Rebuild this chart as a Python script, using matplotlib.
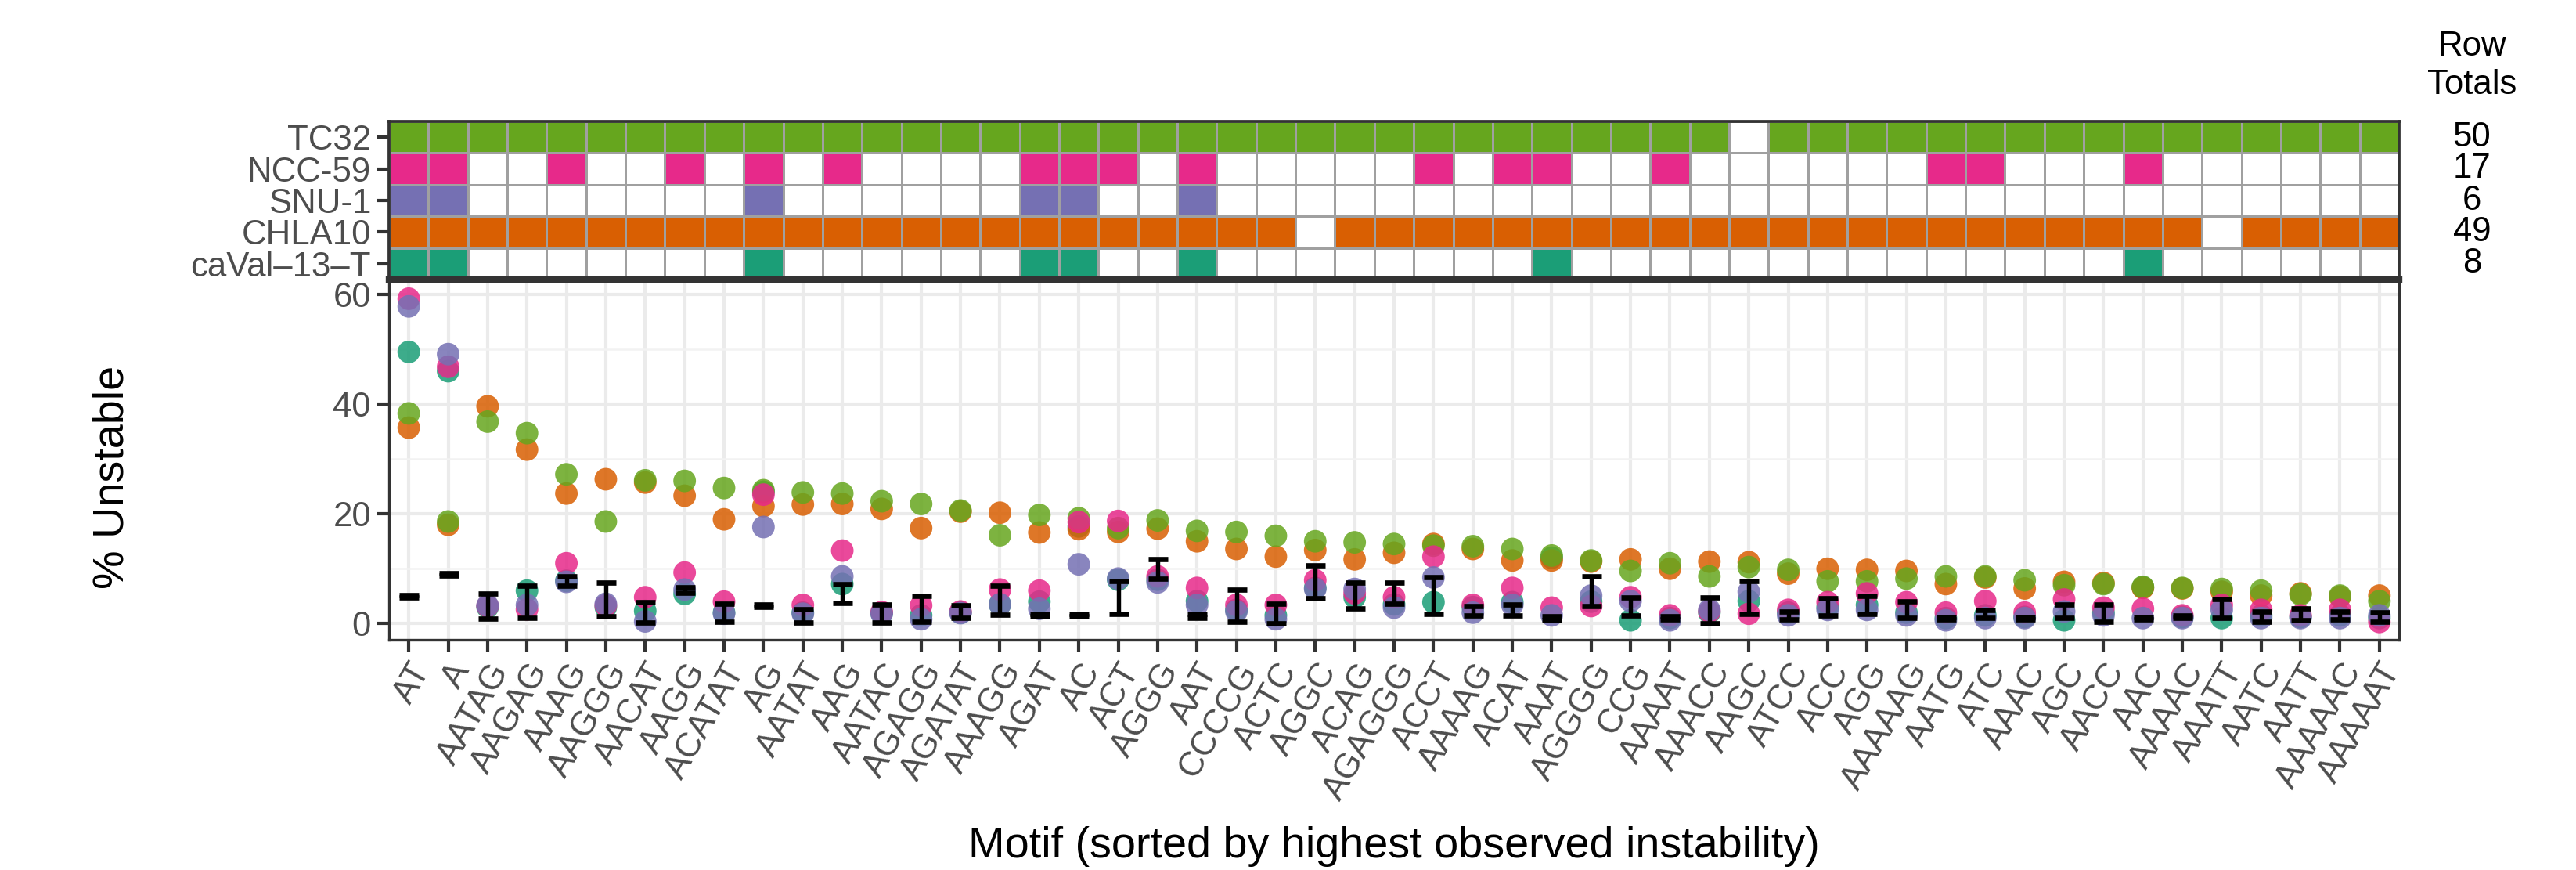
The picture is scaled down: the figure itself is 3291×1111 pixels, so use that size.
import matplotlib
matplotlib.use("Agg")
import matplotlib.pyplot as plt
import numpy as np
from matplotlib.colors import ListedColormap
from matplotlib.transforms import blended_transform_factory
from matplotlib.ticker import FixedLocator

plt.rcParams['font.family'] = ['Liberation Sans', 'DejaVu Sans']

# ---------------- data ----------------
motifs = ["AT", "A", "AATAG", "AAGAG", "AAAG", "AAGGG", "AACAT", "AAGG", "ACATAT", "AG",
          "AATAT", "AAG", "AATAC", "AGAGG", "AGATAT", "AAAGG", "AGAT", "AC", "ACT", "AGGG",
          "AAT", "CCCCG", "ACTC", "AGGC", "ACAG", "AGAGGG", "ACCT", "AAAAG", "ACAT", "AAAT",
          "AGGGG", "CCG", "AAAAT", "AAACC", "AAGC", "ATCC", "ACC", "AGG", "AAAAAG", "AATG",
          "ATC", "AAAC", "AGC", "AACC", "AAC", "AAAAC", "AAATT", "AATC", "AATT", "AAAAAC",
          "AAAAAT"]

cell_lines = ["TC32", "NCC-59", "SNU-1", "CHLA10", "caVal\u201313\u2013T"]
line_colors = ["#66A61E", "#E7298A", "#7570B3", "#D95F02", "#1B9E77"]

# significance membership (heatmap), one list per cell line
tc32_sig = [1, 1, 1, 1, 1, 1, 1, 1, 1, 1,
            1, 1, 1, 1, 1, 1, 1, 1, 1, 1,
            1, 1, 1, 1, 1, 1, 1, 1, 1, 1,
            1, 1, 1, 1, 0, 1, 1, 1, 1, 1,
            1, 1, 1, 1, 1, 1, 1, 1, 1, 1, 1]
ncc_sig = [1, 1, 0, 0, 1, 0, 0, 1, 0, 1,
           0, 1, 0, 0, 0, 0, 1, 1, 1, 0,
           1, 0, 0, 0, 0, 0, 1, 0, 1, 1,
           0, 0, 1, 0, 0, 0, 0, 0, 0, 1,
           1, 0, 0, 0, 1, 0, 0, 0, 0, 0, 0]
snu_sig = [1, 1, 0, 0, 0, 0, 0, 0, 0, 1,
           0, 0, 0, 0, 0, 0, 1, 1, 0, 0,
           1, 0, 0, 0, 0, 0, 0, 0, 0, 0,
           0, 0, 0, 0, 0, 0, 0, 0, 0, 0,
           0, 0, 0, 0, 0, 0, 0, 0, 0, 0, 0]
chla_sig = [1, 1, 1, 1, 1, 1, 1, 1, 1, 1,
            1, 1, 1, 1, 1, 1, 1, 1, 1, 1,
            1, 1, 1, 0, 1, 1, 1, 1, 1, 1,
            1, 1, 1, 1, 1, 1, 1, 1, 1, 1,
            1, 1, 1, 1, 1, 1, 0, 1, 1, 1, 1]
caval_sig = [1, 1, 0, 0, 0, 0, 0, 0, 0, 1,
             0, 0, 0, 0, 0, 0, 1, 1, 0, 0,
             1, 0, 0, 0, 0, 0, 0, 0, 0, 1,
             0, 0, 0, 0, 0, 0, 0, 0, 0, 0,
             0, 0, 0, 0, 1, 0, 0, 0, 0, 0, 0]

# % unstable per cell line
tc32_v = [38.3, 18.6, 36.8, 34.7, 27.2, 18.6, 26.1, 26.0, 24.7, 24.3,
          23.9, 23.7, 22.3, 21.8, 20.6, 16.1, 19.8, 19.2, 17.4, 18.8,
          16.9, 16.7, 16.0, 15.0, 14.8, 14.5, 14.2, 14.1, 13.6, 12.4,
          11.5, 9.6, 11.0, 8.6, 10.3, 9.8, 7.7, 7.7, 8.2, 8.6,
          8.6, 7.9, 7.0, 7.2, 6.7, 6.5, 6.3, 6.0, 5.3, 5.1, 4.1]
ncc_v = [59.2, 46.8, 3.2, 2.6, 11.0, 3.3, 4.8, 9.3, 4.0, 23.5,
         3.4, 13.3, 2.1, 3.3, 2.2, 6.2, 6.0, 18.5, 18.7, 8.6,
         6.5, 3.4, 3.4, 7.9, 5.5, 4.8, 12.2, 3.4, 6.5, 2.9,
         3.2, 4.8, 1.5, 2.2, 1.8, 2.5, 3.9, 5.5, 3.9, 2.0,
         4.1, 2.0, 4.4, 2.9, 2.7, 1.5, 3.4, 2.5, 1.5, 2.5, 0.3]
snu_v = [57.8, 49.1, 3.3, 3.4, 7.6, 3.6, 0.4, 6.2, 1.8, 17.6,
         1.8, 8.6, 1.8, 0.8, 1.9, 3.5, 2.7, 10.8, 8.2, 7.5,
         3.4, 2.2, 0.8, 6.3, 6.3, 2.9, 8.4, 2.0, 3.4, 1.5,
         5.1, 4.1, 0.6, 2.5, 5.8, 1.5, 2.5, 2.5, 1.5, 0.6,
         1.0, 1.0, 2.2, 1.5, 1.0, 1.0, 2.5, 1.0, 1.0, 1.0, 1.5]
chla_v = [35.7, 18.0, 39.6, 31.7, 23.7, 26.3, 25.7, 23.3, 19.0, 21.4,
          21.7, 21.8, 20.9, 17.4, 20.4, 20.2, 16.6, 17.2, 16.7, 17.3,
          15.0, 13.6, 12.2, 13.4, 11.7, 12.9, 14.5, 13.6, 11.5, 11.5,
          11.3, 11.7, 10.0, 11.3, 11.2, 9.1, 10.0, 9.8, 9.6, 7.2,
          8.4, 6.4, 7.6, 7.4, 6.5, 6.4, 5.8, 5.1, 5.5, 4.9, 5.1]
caval_v = [49.5, 46.0, 3.0, 6.0, 7.8, 3.0, 2.3, 5.4, 2.0, 24.0,
           2.0, 7.2, 1.9, 1.5, 2.0, 3.5, 4.0, 17.7, 8.0, 8.0,
           4.1, 2.5, 1.5, 6.5, 4.8, 3.5, 3.9, 3.0, 3.9, 12.0,
           4.0, 0.6, 1.0, 2.0, 4.1, 2.0, 3.0, 3.4, 2.0, 1.0,
           1.5, 1.2, 0.6, 2.0, 6.6, 1.2, 1.0, 1.5, 1.2, 1.5, 1.0]

# control range (black error bars)
ctrl_lo = [4.7, 8.7, 0.9, 1.1, 6.9, 1.4, 0.2, 5.6, 0.4, 3.0,
           0.2, 3.8, 0.2, 0.3, 1.1, 1.6, 1.3, 1.4, 1.8, 8.2,
           1.0, 0.3, 0.1, 4.6, 2.7, 3.6, 1.8, 1.5, 1.5, 0.6,
           3.2, 1.5, 0.8, 0.1, 1.8, 0.8, 1.5, 1.8, 1.0, 0.8,
           1.0, 0.8, 1.0, 0.3, 0.8, 1.1, 1.0, 0.3, 0.6, 0.8, 0.3]
ctrl_hi = [5.2, 9.2, 5.5, 6.9, 8.6, 7.5, 3.9, 6.6, 3.6, 3.5,
           2.6, 7.2, 3.5, 5.1, 3.3, 6.9, 1.8, 1.7, 7.7, 11.7,
           1.7, 6.2, 3.6, 10.6, 7.4, 7.4, 8.4, 3.2, 3.4, 1.4,
           8.6, 4.8, 1.3, 4.7, 7.7, 2.2, 4.6, 5.1, 4.1, 1.2,
           2.5, 1.2, 3.4, 3.4, 1.2, 1.5, 4.4, 2.2, 2.7, 2.2, 2.0]

sig_rows = [tc32_sig, ncc_sig, snu_sig, chla_sig, caval_sig]
val_rows = [tc32_v, ncc_v, snu_v, chla_v, caval_v]

# ---------------- figure ----------------
W, H, DPI = 3291, 1111, 300
fig = plt.figure(figsize=(W / DPI, H / DPI), dpi=DPI)

def px_axes(x0, x1, y0, y1):
    return fig.add_axes([x0 / W, 1 - y1 / H, (x1 - x0) / W, (y1 - y0) / H])

ax_h = px_axes(497, 3065, 155, 357)
ax_s = px_axes(497, 3065, 359, 817)

n = len(motifs)
x = np.arange(n)
tick_col = "#4D4D4D"
dark = "#333333"
fs_tick = 10.5
fs_title = 13.4

# ---- heatmap ----
code = np.array([[(r + 1) if s else 0 for s in row] for r, row in enumerate(sig_rows)])
cmap = ListedColormap(["white"] + line_colors)
ax_h.pcolormesh(np.arange(n + 1) - 0.5, np.arange(len(cell_lines) + 1) - 0.5, code,
                cmap=cmap, vmin=-0.5, vmax=len(cell_lines) + 0.5,
                edgecolors="#A0A0A0", linewidth=0.6)
ax_h.set_xlim(-0.5, n - 0.5)
ax_h.set_ylim(len(cell_lines) - 0.5, -0.5)
ax_h.set_xticks([])
ax_h.set_yticks(range(len(cell_lines)))
ax_h.set_yticklabels(cell_lines, fontsize=fs_tick, color=tick_col)
ax_h.tick_params(axis="y", length=3.5, width=1.0, color=dark, pad=2)
for side, sp in ax_h.spines.items():
    sp.set_color(dark)
    sp.set_linewidth(0.9)
ax_h.spines["bottom"].set_linewidth(2.0)

# row totals
tr = blended_transform_factory(fig.transFigure, ax_h.transData)
totals = [sum(row) for row in sig_rows]
for i, t in enumerate(totals):
    ax_h.text(3158 / W, i, str(t), transform=tr, ha="center", va="center",
              fontsize=fs_tick, color="black")
fig.text(3158 / W, 1 - 84 / H, "Row\nTotals", ha="center", va="center",
         fontsize=fs_tick, color="black", linespacing=1.25)

# ---- scatter ----
ax_s.set_xlim(-0.5, n - 0.5)
ax_s.set_ylim(-2.95, 62.4)
ax_s.set_axisbelow(True)
ax_s.yaxis.set_major_locator(FixedLocator([0, 20, 40, 60]))
ax_s.yaxis.set_minor_locator(FixedLocator([10, 30, 50]))
ax_s.set_xticks(x)
ax_s.set_xticklabels(motifs, rotation=60, ha="right", va="top", rotation_mode="anchor",
                     fontsize=fs_tick, color=tick_col)
ax_s.set_yticks([0, 20, 40, 60])
ax_s.set_yticklabels(["0", "20", "40", "60"], fontsize=fs_tick, color=tick_col)
ax_s.grid(True, which="major", color="#EBEBEB", linewidth=1.0)
ax_s.grid(True, which="minor", axis="y", color="#F2F2F2", linewidth=0.6)
ax_s.tick_params(axis="both", which="major", length=3.5, width=1.0, color=dark, pad=2)
ax_s.tick_params(axis="y", which="minor", length=0)
for sp in ax_s.spines.values():
    sp.set_color(dark)
    sp.set_linewidth(0.8)

draw_order = [4, 3, 0, 1, 2]
for k in draw_order:
    ax_s.scatter(x, val_rows[k], s=48, color=line_colors[k], alpha=0.85,
                 edgecolors="none", zorder=3)

lo = np.array(ctrl_lo)
hi = np.array(ctrl_hi)
mid = (lo + hi) / 2
ax_s.errorbar(x, mid, yerr=(hi - lo) / 2, fmt="none", ecolor="black",
              elinewidth=1.3, capsize=3.0, capthick=1.6, zorder=4)

fig.text(143 / W, 1 - 609 / H, "% Unstable", rotation=90, ha="center", va="center",
         fontsize=fs_title, color="black")
fig.text(1781 / W, 1 - 1081 / H, "Motif (sorted by highest observed instability)",
         ha="center", va="center", fontsize=fs_title, color="black")

fig.savefig("out.png", dpi=DPI)
